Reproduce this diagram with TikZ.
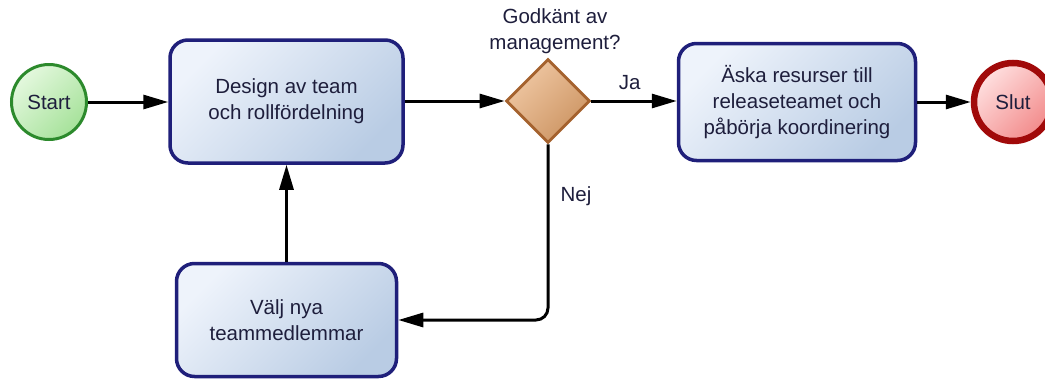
\documentclass[tikz,border=0pt]{standalone}
\usepackage{fontspec}
\setmainfont{Liberation Sans}
\usetikzlibrary{shapes.geometric,arrows.meta}

\definecolor{txt}{HTML}{1E1E3C}
\definecolor{taskline}{HTML}{1F1F7A}
\definecolor{tasklight}{HTML}{EEF3FB}
\definecolor{taskdark}{HTML}{B9CCE4}
\definecolor{startline}{HTML}{2C8A2C}
\definecolor{startlight}{HTML}{E4F8DE}
\definecolor{startdark}{HTML}{A6E29A}
\definecolor{endline}{HTML}{A10A0A}
\definecolor{endlight}{HTML}{FFE0E0}
\definecolor{enddark}{HTML}{F28A8A}
\definecolor{gateline}{HTML}{A5622E}
\definecolor{gatelight}{HTML}{F0C8A4}
\definecolor{gatedark}{HTML}{CC9462}

\tikzset{
  every node/.style={font=\fontsize{20.5}{26}\selectfont, text=txt, align=center},
  task/.style={rectangle, rounded corners=18pt, draw=taskline, line width=3.5pt,
    top color=tasklight, bottom color=taskdark, shading angle=45, inner sep=0pt},
  startev/.style={circle, draw=startline, line width=3pt, minimum size=75pt,
    top color=startlight, bottom color=startdark, shading angle=45, inner sep=0pt},
  endev/.style={circle, draw=endline, line width=6.5pt, minimum size=78pt,
    top color=endlight, bottom color=enddark, shading angle=45, inner sep=0pt},
  gate/.style={diamond, aspect=1, draw=gateline, line width=2.8pt, minimum size=84pt,
    top color=gatelight, bottom color=gatedark, shading angle=45, inner sep=0pt},
  flow/.style={line width=3pt, draw=black, -{Triangle[length=25pt,width=14pt]}},
  lbl/.style={text=txt}
}

\begin{document}
\begin{tikzpicture}[x=1pt,y=-1pt]
  \useasboundingbox (0,0) rectangle (1045,381);

  % events, tasks and gateway
  \node[startev] (start) at (49,102) {Start};
  \node[task, minimum width=233pt, minimum height=123pt] (design) at (286.5,101.5)
    {Design av team\\och rollfördelning};
  \node[gate] (gw) at (548,101) {};
  \node[lbl, anchor=south] (q) at (555,57) {Godkänt av\\management?};
  \node[task, minimum width=237pt, minimum height=117pt] (req) at (797,102)
    {Äska resurser till\\releaseteamet och\\påbörja koordinering};
  \node[endev] (slut) at (1013,102) {Slut};
  \node[task, minimum width=220pt, minimum height=113pt] (pick) at (286.5,320)
    {Välj nya\\teammedlemmar};

  % sequence flows
  \draw[flow] (start.east) -- (design.west |- start.east);
  \draw[flow] (design.east |- gw.west) -- (gw.west);
  \draw[flow] (gw.east) -- (req.west |- gw.east)
    node[lbl, pos=0.45, above=6pt] (ja) {Ja};
  \draw[flow] (req.east) -- (slut.west |- req.east);
  \draw[flow] (pick.north) -- (design.south);
  \draw[flow, rounded corners=12pt] (gw.south) -- (gw.south |- pick.east) -- (pick.east);
  \node[lbl] (nej) at (576,196) {Nej};
\end{tikzpicture}
\end{document}
